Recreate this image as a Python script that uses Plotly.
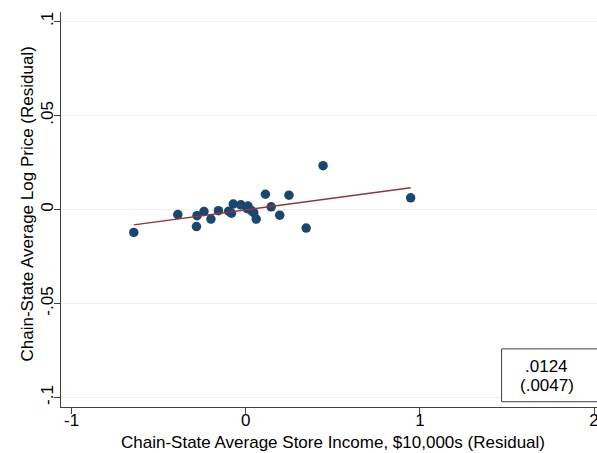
import plotly.graph_objects as go
import numpy as np

# Data
income_resid = [-0.643, -0.390, -0.283, -0.280, -0.240, -0.200, -0.157, -0.098, -0.082,
                -0.072, -0.028, 0.008, 0.013, 0.033, 0.046, 0.060, 0.113, 0.146, 0.195,
                0.248, 0.347, 0.444, 0.947]
price_resid = [-0.0122, -0.0027, -0.0091, -0.0033, -0.0011, -0.0051, -0.0006, -0.0009, -0.0020,
               0.0029, 0.0025, 0.0005, 0.0018, -0.0006, -0.0017, -0.0051, 0.0081, 0.0014, -0.0030,
               0.0076, -0.0099, 0.0233, 0.0062]
fit_slope = 0.0124
fit_intercept = -0.0002
coef_text = ".0124"
se_text = "(.0047)"

x_tickvals = [-1, 0, 1, 2]
x_ticktext = ["-1", "0", "1", "2"]
y_tickvals = [-0.1, -0.05, 0, 0.05, 0.1]
y_ticktext = ["-.1", "-.05", "0", ".05", ".1"]

FONT = "Liberation Sans, Arial, sans-serif"
FS = 17
navy = "#1a476f"
maroon = "#90353b"

fit_x = [min(income_resid), max(income_resid)]
fit_y = [fit_intercept + fit_slope * v for v in fit_x]

fig = go.Figure()
fig.add_trace(go.Scatter(x=income_resid, y=price_resid, mode="markers",
                         marker=dict(color=navy, size=9.5, line=dict(width=0)),
                         showlegend=False, hoverinfo="skip"))
fig.add_trace(go.Scatter(x=fit_x, y=fit_y, mode="lines",
                         line=dict(color=maroon, width=1.5),
                         showlegend=False, hoverinfo="skip"))

# coefficient box
fig.add_shape(type="rect", xref="x", yref="y", x0=1.469, x1=2.3, y0=-0.1022, y1=-0.0741,
              line=dict(color="#404040", width=1), fillcolor="white", layer="above")
fig.add_annotation(x=1.727, y=-0.0837, xref="x", yref="y", text=coef_text, showarrow=False,
                   font=dict(family=FONT, size=FS, color="black"))
fig.add_annotation(x=1.727, y=-0.0937, xref="x", yref="y", text=se_text, showarrow=False,
                   font=dict(family=FONT, size=FS, color="black"))

# axis titles
fig.add_annotation(x=0.5075, y=-0.0911, xref="paper", yref="paper", yanchor="middle",
                   text="Chain-State Average Store Income, $10,000s (Residual)", showarrow=False,
                   font=dict(family=FONT, size=FS, color="black"))
fig.add_annotation(x=-0.0634, y=0.5127, xref="paper", yref="paper", xanchor="center",
                   yanchor="middle", textangle=-90,
                   text="Chain-State Average Log Price (Residual)", showarrow=False,
                   font=dict(family=FONT, size=FS, color="black"))

fig.update_layout(
    width=597, height=453,
    margin=dict(l=61, r=0, t=12, b=46, autoexpand=False),
    paper_bgcolor="white", plot_bgcolor="white",
    font=dict(family=FONT, size=FS, color="black"),
    xaxis=dict(range=[-1.061, 2.017], tickvals=x_tickvals, ticktext=x_ticktext,
               showgrid=False, zeroline=False, showline=True, linecolor="#404040",
               linewidth=1, ticks="outside", ticklen=6, tickcolor="#404040",
               automargin=False, ticklabelstandoff=-8, ticklabeloverflow="allow"),
    yaxis=dict(range=[-0.105, 0.105], tickvals=y_tickvals, ticktext=y_ticktext,
               tickangle=-90, showgrid=True, gridcolor="#eaf2f3", gridwidth=1,
               zeroline=False, showline=True, linecolor="#404040", linewidth=1,
               ticks="outside", ticklen=6, tickcolor="#404040", automargin=False,
               ticklabelstandoff=-6),
)

fig.write_html("out.html", config={"displayModeBar": False},
               post_script="document.body.style.margin='0';document.body.style.overflow='hidden';")
